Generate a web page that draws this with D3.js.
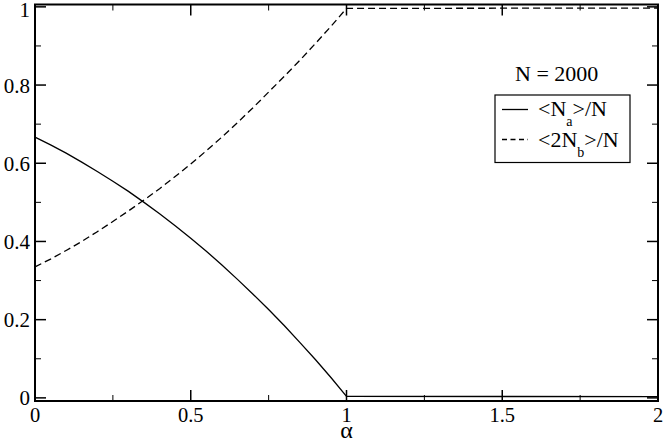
<!DOCTYPE html>
<html><head><meta charset="utf-8">
<script src="https://cdn.jsdelivr.net/npm/d3@7"></script>
<style>body{margin:0;background:#fff}svg{display:block}</style>
</head><body><svg id="c" width="664" height="442" font-family="'Liberation Serif', 'Liberation Sans', Arial, sans-serif"></svg>
<script>
const alpha = [0,0.05,0.10,0.15,0.20,0.25,0.30,0.35,0.40,0.45,0.50,0.55,0.60,0.65,0.70,0.75,0.80,0.85,0.90,0.95,1.00,2.00];
const naN   = [0.667,0.647,0.626,0.603,0.579,0.554,0.528,0.500,0.471,0.440,0.408,0.375,0.340,0.303,0.265,0.226,0.185,0.142,0.098,0.052,0.004,0.003];
const nb2N  = [0.335,0.355,0.377,0.400,0.425,0.451,0.478,0.506,0.535,0.566,0.598,0.632,0.667,0.704,0.742,0.782,0.822,0.863,0.906,0.950,0.996,0.997];
const xMajor = [0,0.5,1,1.5,2];
const xMinor = [0.25,0.75,1.25,1.75];
const yMajor = [0,0.2,0.4,0.6,0.8,1];
const yMinor = [0.1,0.3,0.5,0.7,0.9];
const legendTitle = "N = 2000";
const xLabel = "α";

const svg = d3.select("#c");
const L=35,R=658,T=4.5,B=401;
const x = d3.scaleLinear().domain([0,2]).range([L,R]);
const y = d3.scaleLinear().domain([-0.008,1.006]).range([B,T]);
const fmt = d => String(d);

const tk = svg.append("g").attr("stroke","#000");
function xt(vals,len,w){vals.forEach(v=>{
  tk.append("line").attr("x1",x(v)).attr("x2",x(v)).attr("y1",B).attr("y2",B-len).attr("stroke-width",w);
  tk.append("line").attr("x1",x(v)).attr("x2",x(v)).attr("y1",T).attr("y2",T+len).attr("stroke-width",w);});}
function yt(vals,len,w){vals.forEach(v=>{
  tk.append("line").attr("y1",y(v)).attr("y2",y(v)).attr("x1",L).attr("x2",L+len).attr("stroke-width",w);
  tk.append("line").attr("y1",y(v)).attr("y2",y(v)).attr("x1",R).attr("x2",R-len).attr("stroke-width",w);});}
xt(xMajor,11,1.5); xt(xMinor,6,1); yt(yMajor,11,1.5); yt(yMinor,6,1);

svg.append("g").selectAll("text").data(xMajor).join("text")
  .attr("x",d=>x(d)).attr("y",422).attr("text-anchor","middle").attr("font-size",20.5).text(fmt);
svg.append("g").selectAll("text").data(yMajor).join("text")
  .attr("x",30).attr("y",d=>Math.max(y(d)+7.5,16.5)).attr("text-anchor","end").attr("font-size",21).text(fmt);
svg.append("text").attr("x",x(1)).attr("y",438).attr("text-anchor","middle").attr("font-size",24).text(xLabel);

const line = d3.line().x((d,i)=>x(alpha[i])).y(d=>y(d));
svg.append("path").attr("d",line(naN)).attr("fill","none").attr("stroke","#000").attr("stroke-width",1.3);
svg.append("path").attr("d",line(nb2N)).attr("fill","none").attr("stroke","#000").attr("stroke-width",1.3).attr("stroke-dasharray","7,4");

svg.append("rect").attr("x",L).attr("y",T).attr("width",R-L).attr("height",B-T).attr("fill","none").attr("stroke","#000").attr("stroke-width",2);

svg.append("text").attr("x",515).attr("y",80.5).attr("font-size",22).text(legendTitle);
svg.append("rect").attr("x",495).attr("y",95).attr("width",135).attr("height",67.5).attr("fill","none").attr("stroke","#000").attr("stroke-width",1.2);
svg.append("line").attr("x1",502).attr("x2",528).attr("y1",109.5).attr("y2",109.5).attr("stroke","#000").attr("stroke-width",1.3);
svg.append("line").attr("x1",502).attr("x2",528).attr("y1",139.5).attr("y2",139.5).attr("stroke","#000").attr("stroke-width",1.3).attr("stroke-dasharray","5,3.5");
const t1 = svg.append("text").attr("x",538).attr("y",115.5).attr("font-size",22);
t1.append("tspan").text("<N");
t1.append("tspan").attr("font-size",14).attr("dy",10).text("a");
t1.append("tspan").attr("dy",-10).text(">/N");
const t2 = svg.append("text").attr("x",538).attr("y",146.5).attr("font-size",22);
t2.append("tspan").text("<2N");
t2.append("tspan").attr("font-size",14).attr("dy",10).text("b");
t2.append("tspan").attr("dy",-10).text(">/N");
</script></body></html>
